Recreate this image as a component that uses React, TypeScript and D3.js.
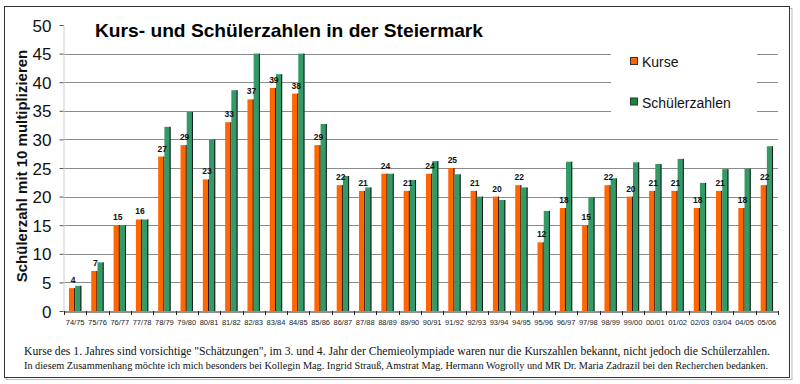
import { useEffect, useRef } from "react";
import * as d3 from "d3";

const YEARS = [
  "74/75", "75/76", "76/77", "77/78", "78/79", "79/80", "80/81", "81/82",
  "82/83", "83/84", "84/85", "85/86", "86/87", "87/88", "88/89", "89/90",
  "90/91", "91/92", "92/93", "93/94", "94/95", "95/96", "96/97", "97/98",
  "98/99", "99/00", "00/01", "01/02", "02/03", "03/04", "04/05", "05/06",
];

const KURSE = [
  4, 7, 15, 16, 27, 29, 23, 33, 37, 39, 38, 29, 22, 21, 24, 21,
  24, 25, 21, 20, 22, 12, 18, 15, 22, 20, 21, 21, 18, 21, 18, 22,
];

// Schülerzahl / 10
const SCHUELER = [
  4.4, 8.5, 15, 16, 32.2, 34.8, 30, 38.6, 45, 41.4, 45, 32.7, 23.6, 21.6, 24, 22.9,
  26.2, 23.9, 20, 19.4, 21.6, 17.5, 26.1, 19.9, 23.2, 26, 25.7, 26.6, 22.4, 24.8, 24.9, 28.8,
];

const Y_TICKS = [0, 5, 10, 15, 20, 25, 30, 35, 40, 45, 50];

const ORANGE = "#ff6600";
const GREEN = "#339966";

export default function App() {
  const ref = useRef<SVGSVGElement | null>(null);
  const width = 800;
  const height = 384;
  const m = { top: 25, right: 22, bottom: 73, left: 64 };

  useEffect(() => {
    const svg = d3.select(ref.current);
    svg.selectAll("*").remove();

    const x = d3.scaleBand<string>().domain(YEARS).range([m.left, width - m.right]);
    const x1 = d3.scaleBand<string>().domain(["k", "s"]).range([0, x.bandwidth()]).paddingOuter(0.8);
    const y = d3.scaleLinear().domain([0, 50]).range([height - m.bottom, m.top]);

    svg.append("rect").attr("width", width).attr("height", height).attr("fill", "#fff");

    // frame with little shadow
    svg.append("rect").attr("x", 6).attr("y", 8.5).attr("width", 786).attr("height", 371).attr("fill", "none").attr("stroke", "#bbb");
    svg.append("rect").attr("x", 4.5).attr("y", 6.5).attr("width", 785).attr("height", 371).attr("fill", "#fff").attr("stroke", "#333");

    const g = svg.append("g");

    // grid
    g.append("g")
      .selectAll("line")
      .data(Y_TICKS.filter((d) => d > 0 && d < 50))
      .join("line")
      .attr("x1", m.left)
      .attr("x2", width - m.right)
      .attr("y1", (d) => Math.round(y(d)) + 0.5)
      .attr("y2", (d) => Math.round(y(d)) + 0.5)
      .attr("stroke", "#8a8a8a");

    // y axis
    g.append("g")
      .attr("transform", `translate(${m.left - 0.5},0)`)
      .call(d3.axisLeft(y).tickValues(Y_TICKS).tickSize(4).tickPadding(8))
      .call((s) => s.select(".domain").attr("stroke", "#ccc"))
      .call((s) => s.selectAll("line").attr("stroke", "#555"))
      .call((s) =>
        s.selectAll("text").attr("fill", "#111").attr("font-family", "Arial, 'Liberation Sans', sans-serif").attr("font-size", 17).attr("dy", "0.36em")
      );

    // bars
    const groups = g
      .append("g")
      .selectAll("g")
      .data(YEARS)
      .join("g")
      .attr("transform", (d) => `translate(${x(d)},0)`);

    const bar = (key: "k" | "s", vals: number[], color: string) => {
      groups
        .append("rect")
        .attr("x", x1(key)!)
        .attr("y", (_, i) => y(vals[i]))
        .attr("width", x1.bandwidth())
        .attr("height", (_, i) => y(0) - y(vals[i]))
        .attr("fill", color);
      groups
        .append("line")
        .attr("x1", x1(key)! + x1.bandwidth() - 0.5)
        .attr("x2", x1(key)! + x1.bandwidth() - 0.5)
        .attr("y1", (_, i) => y(vals[i]))
        .attr("y2", y(0))
        .attr("stroke", "#1a1a1a")
        .attr("stroke-width", 1);
    };
    bar("k", KURSE, ORANGE);
    bar("s", SCHUELER, GREEN);

    // value labels over Kurse
    groups
      .append("text")
      .attr("x", x1("k")! + x1.bandwidth() / 2 + 1)
      .attr("y", (_, i) => y(KURSE[i]) - 5)
      .attr("text-anchor", "middle")
      .attr("font-family", "Arial, 'Liberation Sans', sans-serif")
      .attr("font-weight", "bold")
      .attr("font-size", 8.5)
      .attr("fill", "#111")
      .text((_, i) => KURSE[i]);

    // x axis
    g.append("g")
      .attr("transform", `translate(0,${y(0) + 0.5})`)
      .call(d3.axisBottom(x).tickSize(0).tickPadding(8))
      .call((s) => s.select(".domain").attr("stroke", "#222"))
      .call((s) =>
        s.selectAll("text").attr("fill", "#222").attr("font-family", "Arial, 'Liberation Sans', sans-serif").attr("font-size", 7.5)
      );
    g.append("g")
      .selectAll("line")
      .data(YEARS.concat(["end"]))
      .join("line")
      .attr("x1", (d, i) => Math.round(m.left + i * x.step()) + 0.5)
      .attr("x2", (d, i) => Math.round(m.left + i * x.step()) + 0.5)
      .attr("y1", y(0))
      .attr("y2", y(0) + 4)
      .attr("stroke", "#222");

    // legend
    const lg = svg.append("g");
    lg.append("rect").attr("x", 611).attr("y", 44).attr("width", 146).attr("height", 80).attr("fill", "#fff");
    const items = [
      { label: "Kurse", color: ORANGE, y: 62 },
      { label: "Schülerzahlen", color: "#118833", y: 102.5 },
    ];
    items.forEach((it) => {
      lg.append("rect").attr("x", 630.5).attr("y", it.y - 4.5).attr("width", 7).attr("height", 7).attr("fill", it.color).attr("stroke", "#333");
      lg.append("text")
        .attr("x", 642)
        .attr("y", it.y + 5)
        .attr("font-family", "Arial, 'Liberation Sans', sans-serif")
        .attr("font-size", 14)
        .attr("fill", "#111")
        .text(it.label);
    });

    // title
    svg.append("text")
      .attr("x", 95)
      .attr("y", 37)
      .attr("font-family", "Arial, 'Liberation Sans', sans-serif")
      .attr("font-weight", "bold")
      .attr("font-size", 18.5)
      .attr("fill", "#000")
      .attr("textLength", 388)
      .attr("lengthAdjust", "spacingAndGlyphs")
      .text("Kurs- und Schülerzahlen in der Steiermark");

    // y label
    svg.append("text")
      .attr("transform", "translate(27,166) rotate(-90)")
      .attr("text-anchor", "middle")
      .attr("font-family", "Arial, 'Liberation Sans', sans-serif")
      .attr("font-weight", "bold")
      .attr("font-size", 15)
      .attr("fill", "#111")
      .text("Schülerzahl mit 10 multiplizieren");

    // notes
    svg.append("text")
      .attr("x", 24)
      .attr("y", 355)
      .attr("font-family", "'Liberation Serif', 'Times New Roman', serif")
      .attr("font-size", 11.5)
      .attr("fill", "#111")
      .attr("textLength", 746)
      .attr("lengthAdjust", "spacingAndGlyphs")
      .text('Kurse des 1. Jahres sind vorsichtige "Schätzungen", im 3. und 4. Jahr der Chemieolympiade waren nur die Kurszahlen bekannt, nicht jedoch die Schülerzahlen.');
    svg.append("text")
      .attr("x", 24)
      .attr("y", 369)
      .attr("font-family", "'Liberation Serif', 'Times New Roman', serif")
      .attr("font-size", 10)
      .attr("fill", "#111")
      .attr("textLength", 744)
      .attr("lengthAdjust", "spacingAndGlyphs")
      .text("In diesem Zusammenhang möchte ich mich besonders bei Kollegin Mag. Ingrid Strauß, Amstrat Mag. Hermann Wogrolly und MR Dr. Maria Zadrazil bei den Recherchen bedanken.");
  }, []);

  return (
    <div style={{ position: "fixed", left: 0, top: 0 }}>
      <svg ref={ref} width={width} height={height} style={{ display: "block" }} />
    </div>
  );
}
